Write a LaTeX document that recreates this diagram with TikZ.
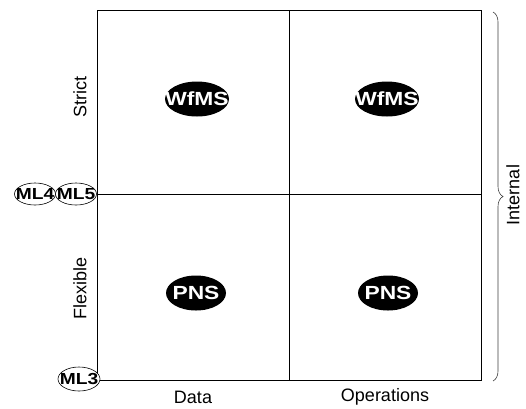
\documentclass[tikz,border=0pt]{standalone}
\usepackage{fontspec}
\setmainfont{Liberation Sans}
\newfontfamily\widesans{Liberation Sans}[FakeStretch=1.2]
\usetikzlibrary{shapes.geometric,decorations.pathreplacing}

\begin{document}
\begin{tikzpicture}[x=1pt,y=-1pt,
  gridline/.style={draw=black, line width=0.9pt},
  axislabel/.style={font=\fontsize{18}{18}\selectfont, inner sep=0pt},
  darkblob/.style={ellipse, fill=black, inner sep=0pt, minimum width=64pt, minimum height=35pt},
  darktext/.style={text=white, inner sep=0pt, font=\widesans\bfseries\fontsize{19}{19}\selectfont},
  levelblob/.style={ellipse, draw=black, fill=white, line width=0.6pt, inner sep=0pt, minimum width=41pt, minimum height=22pt},
  leveltext/.style={text=black, inner sep=0pt, font=\widesans\bfseries\fontsize{16}{16}\selectfont},
]
\useasboundingbox (0,0) rectangle (526,408);
\fill[white] (0,0) rectangle (526,408);

% grid corners and mid points
\coordinate (tl) at (97,10);
\coordinate (br) at (481,380);
\coordinate (tm) at (289,10);
\coordinate (bm) at (289,380);
\coordinate (ml) at (97,194);
\coordinate (mr) at (481,194);

\draw[gridline] (tl) rectangle (br);
\draw[gridline] (tm) -- (bm);
\draw[gridline] (ml) -- (mr);

% quadrant systems
\node[darkblob, label={[darktext]center:WfMS}] (wfl) at (197,99) {};
\node[darkblob, label={[darktext]center:WfMS}] (wfr) at (387,99) {};
\node[darkblob, minimum width=60pt, label={[darktext]center:PNS}] (pnl) at (196,293) {};
\node[darkblob, minimum width=60pt, label={[darktext]center:PNS}] (pnr) at (388,293) {};

% maturity levels on the axis
\node[levelblob, label={[leveltext]center:ML4}] (ml4) at (35,194) {};
\node[levelblob, label={[leveltext]center:ML5}] (ml5) at (76,194) {};
\node[levelblob, minimum width=42pt, minimum height=24pt, label={[leveltext]center:ML3}] (ml3) at (79,379) {};

% axis labels
\node[axislabel, rotate=90] (strict) at (80,97) {Strict};
\node[axislabel, rotate=90] (flex) at (80,288) {Flexible};
\node[axislabel] (data) at (193,397) {Data};
\node[axislabel] (ops) at (385,397) {Operations};

% brace on the right
\coordinate (bt) at (493,12);
\coordinate (bb) at (493,381);
\draw[black!75, line width=0.6pt, decorate, decoration={brace, amplitude=10pt}] (bt) -- (bb);
\node[axislabel, rotate=90] (internal) at (513,195) {Internal};
\end{tikzpicture}
\end{document}
